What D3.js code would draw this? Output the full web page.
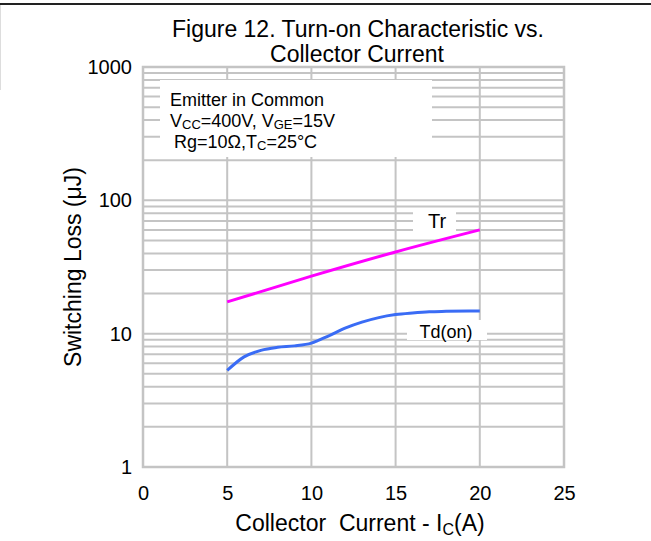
<!DOCTYPE html>
<html><head><meta charset="utf-8">
<script src="https://cdn.jsdelivr.net/npm/d3@7"></script>
<style>body{margin:0;background:#fff}svg{display:block;font-family:"Liberation Sans",Arial,sans-serif}</style>
</head><body><svg id="c" width="651" height="541"></svg>
<script>
const xTicks = [0, 5, 10, 15, 20, 25];
const yTicks = [1, 10, 100, 1000];
const trX = [5, 10, 15, 20];
const trY = [17.3, 27, 41, 60];
const tdX = [5, 6, 7, 8, 9, 10, 11, 12, 13, 14, 15, 16, 17, 18, 20];
const tdY = [5.3, 6.7, 7.5, 7.9, 8.1, 8.5, 9.6, 11, 12.2, 13.2, 13.9, 14.3, 14.6, 14.7, 14.8];

const svg = d3.select("#c");
const L = 143, R = 564, T = 67, B = 467;
const x = d3.scaleLinear().domain([0, 25]).range([L, R]);
const y = d3.scaleLog().domain([1, 1000]).range([B, T]);
const grid = "#c4c4c4";
const FF = "Liberation Sans, Arial, sans-serif";

// page decorations
svg.append("rect").attr("x",0).attr("y",3).attr("width",651).attr("height",2).attr("fill","#222");
svg.append("line").attr("x1",0.5).attr("x2",0.5).attr("y1",5).attr("y2",90).attr("stroke","#ddd");

// grid
const minor = [];
for (let d = 1; d < 1000; d *= 10) for (let k = 1; k <= 9; k++) minor.push(d * k);
svg.append("g").selectAll("line").data(minor).join("line")
  .attr("x1", L).attr("x2", R).attr("y1", d => y(d)).attr("y2", d => y(d))
  .attr("stroke", grid).attr("stroke-width", 2);
svg.append("g").selectAll("line").data(xTicks).join("line")
  .attr("x1", d => x(d)).attr("x2", d => x(d)).attr("y1", T).attr("y2", B)
  .attr("stroke", grid).attr("stroke-width", 2);
svg.append("rect").attr("x", L).attr("y", T).attr("width", R - L).attr("height", B - T)
  .attr("fill", "none").attr("stroke", grid).attr("stroke-width", 2.5);

// condition box
svg.append("rect").attr("x",160).attr("y",80).attr("width",272).attr("height",77).attr("fill","#fff");
const cond = svg.append("g").attr("font-size", 18).attr("fill", "#000");
cond.append("text").attr("x",170).attr("y",106).text("Emitter in Common");
const t2 = cond.append("text").attr("x",170).attr("y",127);
t2.append("tspan").text("V");
t2.append("tspan").attr("font-size",13).attr("dy",2).text("CC");
t2.append("tspan").attr("dy",-2).text("=400V, V");
t2.append("tspan").attr("font-size",13).attr("dy",2).text("GE");
t2.append("tspan").attr("dy",-2).text("=15V");
const t3 = cond.append("text").attr("x",174).attr("y",148);
t3.append("tspan").text("Rg=10\u03A9,T");
t3.append("tspan").attr("font-size",13).attr("dy",2).text("C");
t3.append("tspan").attr("dy",-2).text("=25\u00B0C");

// axes
const xa = d3.axisBottom(x).tickValues(xTicks).tickSize(0).tickPadding(19);
const gx = svg.append("g").attr("transform", `translate(0,${B})`).call(xa);
gx.select(".domain").remove();
gx.selectAll("text").attr("font-size", 20).attr("fill", "#000").attr("font-family", FF);
const ya = d3.axisLeft(y).tickValues(yTicks).tickFormat(d3.format("d")).tickSize(0).tickPadding(11);
const gy = svg.append("g").attr("transform", `translate(${L},0)`).call(ya);
gy.select(".domain").remove();
gy.selectAll("text").attr("font-size", 20).attr("fill", "#000").attr("font-family", FF);

// lines
const lineGen = d3.line().x(d => x(d[0])).y(d => y(d[1])).curve(d3.curveMonotoneX);
svg.append("path").datum(trX.map((v, i) => [v, trY[i]])).attr("d", lineGen)
  .attr("fill", "none").attr("stroke", "#ff00ff").attr("stroke-width", 3);
svg.append("path").datum(tdX.map((v, i) => [v, tdY[i]])).attr("d", lineGen)
  .attr("fill", "none").attr("stroke", "#3a6cf5").attr("stroke-width", 3);

// series labels
svg.append("rect").attr("x",413).attr("y",210).attr("width",43).attr("height",23).attr("fill","#fff");
svg.append("text").attr("x",437).attr("y",228).attr("text-anchor","middle").attr("font-size",20).text("Tr");
svg.append("rect").attr("x",407).attr("y",320).attr("width",80).attr("height",20).attr("fill","#fff");
svg.append("text").attr("x",446).attr("y",338).attr("text-anchor","middle").attr("font-size",18).text("Td(on)");

// title
const title = svg.append("g").attr("font-size", 23).attr("text-anchor", "middle");
title.append("text").attr("x", 358).attr("y", 37).text("Figure 12. Turn-on Characteristic vs.");
title.append("text").attr("x", 357).attr("y", 62).text("Collector Current");

// axis titles
const xt = svg.append("text").attr("x", 360).attr("y", 531).attr("text-anchor", "middle").attr("font-size", 23).attr("xml:space","preserve");
xt.append("tspan").text("Collector  Current - I");
xt.append("tspan").attr("font-size", 16).attr("dy", 4).text("C");
xt.append("tspan").attr("dy", -4).text("(A)");
svg.append("text").attr("transform", "translate(81,267) rotate(-90)").attr("text-anchor", "middle")
  .attr("font-size", 23).text("Switching Loss (\u03BCJ)");
</script></body></html>
